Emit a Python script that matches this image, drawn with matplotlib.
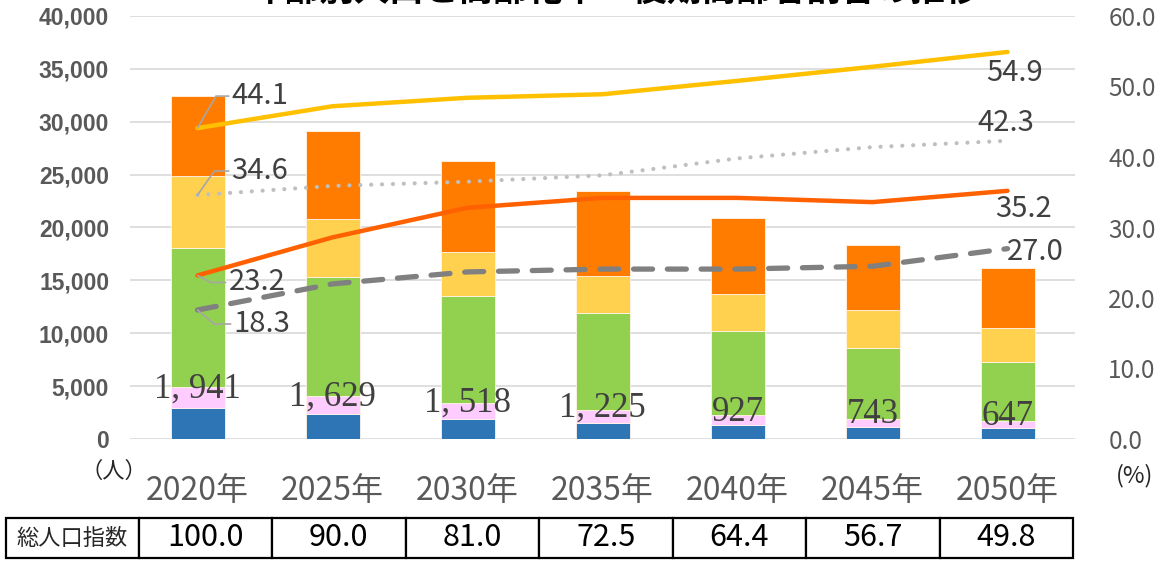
import matplotlib
matplotlib.use("Agg")
import matplotlib.pyplot as plt
from matplotlib.ticker import StrMethodFormatter
import numpy as np

plt.rcParams['font.family'] = ['Noto Sans CJK JP', 'DejaVu Sans']

years = ["2020年", "2025年", "2030年", "2035年", "2040年", "2045年", "2050年"]

# 人口（人）: 下から順に積み上げ
pop_blue = [2960, 2390, 1860, 1540, 1320, 1160, 1070]
pop_pink = [1941, 1629, 1518, 1225, 927, 743, 647]
pop_green = [13190, 11330, 10140, 9175, 7963, 6727, 5533]
pop_yellow = [6780, 5450, 4130, 3500, 3500, 3570, 3220]
pop_orange = [7560, 8320, 8610, 8040, 7160, 6150, 5670]

# 割合（%）
rate_yellow = [44.1, 47.2, 48.4, 48.9, 50.8, 52.8, 54.9]
rate_dotted = [34.6, 35.9, 36.5, 37.4, 39.8, 41.4, 42.3]
rate_red = [23.2, 28.6, 32.8, 34.2, 34.2, 33.6, 35.2]
rate_dashed = [18.3, 22.0, 23.7, 24.1, 24.1, 24.5, 27.0]

index_total = ["100.0", "90.0", "81.0", "72.5", "64.4", "56.7", "49.8"]
title = "年齢別人口と高齢化率・後期高齢者割合の推移"

W, H = 1173, 562
fig = plt.figure(figsize=(W / 100, H / 100), dpi=100)
ax = fig.add_axes([130 / W, 1 - 439 / H, 945 / W, 423 / H])
x = np.arange(len(years))

segs = [(pop_blue, '#2E75B6'), (pop_pink, '#FFCCFF'), (pop_green, '#92D050'),
        (pop_yellow, '#FFD14F'), (pop_orange, '#FF7C00')]
bottom = np.zeros(len(years))
for vals, col in segs:
    ax.bar(x, vals, 0.4, bottom=bottom, color=col, edgecolor='#FFF4E8',
           linewidth=0.6, zorder=2)
    bottom += np.array(vals)

pink_bottom = np.array(pop_blue)
for i, v in enumerate(pop_pink):
    s = f"{v:,}".replace(",", ", ")
    ax.annotate(s, (x[i], pink_bottom[i] + v / 2), xytext=(0, 8),
                textcoords='offset pixels', ha='center', va='center',
                fontsize=25, color='#404040', family='Liberation Serif', zorder=6)

ax.set_xlim(-0.5, 6.5)
ax.set_ylim(0, 40000)
ax.set_yticks(np.arange(0, 40001, 5000))
ax.yaxis.set_major_formatter(StrMethodFormatter('{x:,.0f}'))
ax.grid(axis='y', color='#D9D9D9', linewidth=1.2, zorder=0)
ax.set_axisbelow(True)
for sp in ax.spines.values():
    sp.set_visible(False)
ax.tick_params(axis='y', length=0, pad=15, labelsize=16.5, labelcolor='#595959')
for t in ax.get_yticklabels():
    t.set_fontweight('bold')
    t.set_family('Liberation Sans')
ax.set_xticks(x)
ax.set_xticklabels(years)
ax.tick_params(axis='x', length=0, pad=26, labelsize=23, labelcolor='#595959')

ax2 = ax.twinx()
ax2.set_ylim(0, 60)
ax2.set_yticks(np.arange(0, 61, 10))
ax2.yaxis.set_major_formatter(StrMethodFormatter('{x:.1f}'))
for sp in ax2.spines.values():
    sp.set_visible(False)
ax2.tick_params(axis='y', length=0, pad=24, labelsize=17.5, labelcolor='#595959')

ax2.plot(x, rate_yellow, color='#FFC000', lw=3.2, solid_capstyle='round', zorder=4)
ax2.plot(x, rate_dotted, color='#BFBFBF', lw=3, linestyle=(0, (0.01, 2.6)),
         dash_capstyle='round', zorder=4)
ax2.plot(x, rate_red, color='#FF6000', lw=3.2, solid_capstyle='round', zorder=4)
ax2.plot(x, rate_dashed, color='#808080', lw=3.8, linestyle=(0, (3.6, 2.8)),
         dash_capstyle='round', zorder=4)

lab = dict(fontsize=21, color='#404040', textcoords='offset pixels', zorder=6)
arrow = dict(arrowstyle='-', color='#A6A6A6', lw=1.2, shrinkA=0, shrinkB=0)
# 2020 labels with leader lines
for vals, dx, dy, rel in [(rate_yellow, 34, 32, 'angle,angleA=0,angleB=60,rad=0'),
                          (rate_dotted, 34, 24, 'angle,angleA=0,angleB=55,rad=0'),
                          (rate_red, 31, -7, 'angle,angleA=0,angleB=-28,rad=0'),
                          (rate_dashed, 36, -14, 'angle,angleA=0,angleB=-40,rad=0')]:
    ax2.annotate(f"{vals[0]:.1f}", (x[0], vals[0]), xytext=(dx, dy), ha='left', va='center',
                 arrowprops=dict(arrow, connectionstyle=rel), **lab)
# 2050 labels
for vals, dx, dy in [(rate_yellow, 7, -21), (rate_dotted, -2, 18),
                     (rate_red, 16, -18), (rate_dashed, 28, -3)]:
    ax2.annotate(f"{vals[-1]:.1f}", (x[-1], vals[-1]), xytext=(dx, dy), ha='center',
                 va='center', **lab)

fig.text(114 / W, 1 - 471 / H, "（人）", ha='center', va='center', fontsize=16, color='#262626')
fig.text(1135 / W, 1 - 476 / H, "(%)", ha='center', va='center', fontsize=17, color='#262626')
fig.text(616 / W, 1 - 9 / H, title, ha='center', va='bottom', fontsize=25,
         fontweight='bold', color='black')

tax = fig.add_axes([6 / W, 1 - 558 / H, 1067 / W, 40 / H])
tax.axis('off')
widths = [133] + [134] * 7
tbl = tax.table(cellText=[["総人口指数"] + index_total], colWidths=[w / sum(widths) for w in widths],
                bbox=[0, 0, 1, 1], cellLoc='center')
tbl.auto_set_font_size(False)
for (r, c), cell in tbl.get_celld().items():
    cell.set_linewidth(1.6)
    cell.set_edgecolor('black')
    cell.get_text().set_fontsize(16 if c == 0 else 22)
    cell.get_text().set_color('#262626' if c == 0 else 'black')

fig.savefig("out.png", dpi=100)
